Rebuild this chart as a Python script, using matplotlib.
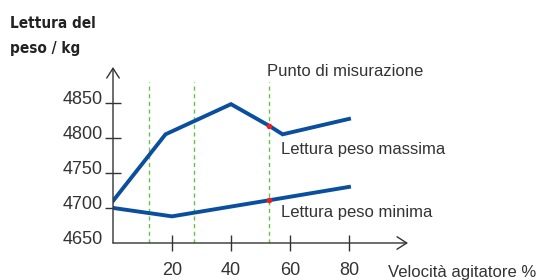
import matplotlib
matplotlib.use("Agg")
import matplotlib.pyplot as plt
from matplotlib.transforms import ScaledTranslation

speed_max = [0, 17.8, 40, 53, 57.5, 80]
weight_max = [4710, 4805, 4848, 4817, 4805, 4827]
speed_min = [0, 20, 53, 80]
weight_min = [4700, 4688, 4711, 4730]
meas_x = [53]
meas_max = [4817]
meas_min = [4711]
guide_x = [12.2, 27.3, 53]
xticks = [20, 40, 60, 80]
yticks = [4650, 4700, 4750, 4800, 4850]

BLUE = "#0a4f9e"
RED = "#ee1c25"
GREEN = "#66c24a"
TXT = "#333333"

plt.rcParams['font.family'] = ['Liberation Sans', 'DejaVu Sans']

fig = plt.figure(figsize=(5.39, 2.80), dpi=100)
ax = fig.add_axes([113/539, 37/280, 295/539, 176/280])
ax.set_xlim(0, 100)
ax.set_ylim(4650, 4901)

for gx in guide_x:
    ax.plot([gx, gx], [4650, 4880], color=GREEN, lw=1.0, ls=(0, (3, 2.5)), zorder=1)

ax.plot(speed_max, weight_max, color=BLUE, lw=2.8, solid_joinstyle='miter', zorder=3)
ax.plot(speed_min, weight_min, color=BLUE, lw=2.8, solid_joinstyle='miter', zorder=3)
ax.scatter(meas_x, meas_max, s=16, color=RED, zorder=4, linewidths=0)
ax.scatter(meas_x, meas_min, s=16, color=RED, zorder=4, linewidths=0)

for s in ['top', 'right', 'left', 'bottom']:
    ax.spines[s].set_visible(False)

ax.annotate('', xy=(1.0, 0), xytext=(0, 0), xycoords='axes fraction',
            arrowprops=dict(arrowstyle='->,head_length=0.7,head_width=0.45', color='#333333', lw=1.0, shrinkA=0, shrinkB=0))
ax.annotate('', xy=(0, 1.0), xytext=(0, 0), xycoords='axes fraction',
            arrowprops=dict(arrowstyle='->,head_length=0.7,head_width=0.45', color='#333333', lw=1.0, shrinkA=0, shrinkB=0))

ax.set_xticks(xticks)
ax.set_yticks(yticks)
ax.set_yticklabels([str(v) for v in yticks])
ax.tick_params(axis='both', direction='inout', length=11, width=1.0, color='#333333',
               labelsize=13, labelcolor=TXT)
ax.tick_params(axis='y', pad=2)
ax.tick_params(axis='x', pad=8)
ax.yaxis.get_major_ticks()[0].tick1line.set_visible(False)

shift = ScaledTranslation(0, 5/100, fig.dpi_scale_trans)
for lab in ax.get_yticklabels():
    lab.set_transform(lab.get_transform() + shift)

ax.text(52.3, 4894, 'Punto di misurazione', fontsize=12, color=TXT, va='center', ha='left')
ax.text(56.8, 4783, 'Lettura peso massima', fontsize=12, color=TXT, va='center', ha='left')
ax.text(56.8, 4694, 'Lettura peso minima', fontsize=12, color=TXT, va='center', ha='left')
fig.text(388/539, 1 - 272/280, 'Velocità agitatore %', fontsize=12, color=TXT, va='center', ha='left')

fig.text(10/539, 1 - 24/280, 'Lettura del', fontsize=11, fontweight='bold', color='#222222',
         va='center', ha='left', family=['DejaVu Sans'], fontstretch='condensed')
fig.text(10/539, 1 - 48/280, 'peso / kg', fontsize=11, fontweight='bold', color='#222222',
         va='center', ha='left', family=['DejaVu Sans'], fontstretch='condensed')

fig.savefig('out.png', dpi=100)
